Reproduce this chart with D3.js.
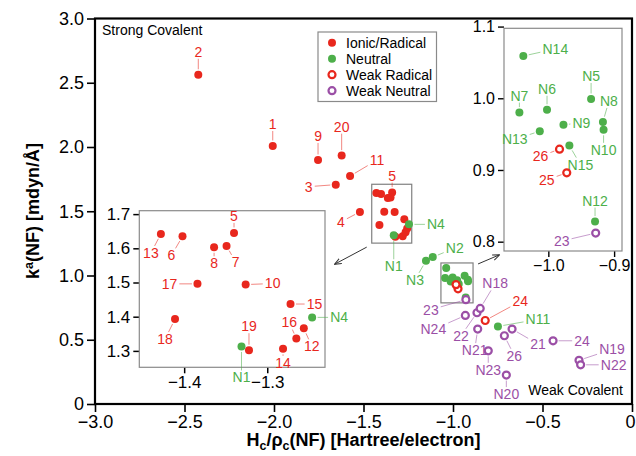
<!DOCTYPE html>
<html>
<head>
<meta charset="utf-8">
<script src="https://cdn.jsdelivr.net/npm/d3@7"></script>
<style>
body { margin: 0; background: #fff; }
svg { display: block; font-family: "Liberation Sans", Arial, Helvetica, sans-serif; }
</style>
</head>
<body>
<div id="chart"></div>
<script>
// ionic / radical (filled red)
const ionicNames = ["1","2","3","4","5","6","7","8","9","10","11","12","13","14","15","16","17","18","19","20"]
const ionicX = [-2.007,-2.423,-1.655,-1.520,-1.340,-1.402,-1.349,-1.364,-1.754,-1.326,-1.575,-1.256,-1.428,-1.281,-1.272,-1.265,-1.384,-1.411,-1.322,-1.622]
const ionicY = [2.008,2.562,1.707,1.495,1.645,1.635,1.607,1.603,1.899,1.494,1.774,1.366,1.642,1.306,1.437,1.336,1.496,1.393,1.302,1.933]

// neutral (filled green)
const neutralNames = ["N1","N2","N3","N4","N5","N6","N7","N8","N9","N10","N11","N12","N13","N14","N15"]
const neutralX = [-1.331,-1.113,-1.151,-1.246,-0.935,-1.002,-1.044,-0.917,-0.977,-0.916,-0.749,-0.929,-1.013,-1.038,-0.968]
const neutralY = [1.313,1.143,1.114,1.398,0.999,0.984,0.980,0.967,0.963,0.956,0.604,0.828,0.954,1.059,0.934]

// weak radical (open red)
const weakRadNames = ["24","25","26"]
const weakRadX = [-0.820,-0.972,-0.983]
const weakRadY = [0.650,0.896,0.929]

// weak neutral (open purple)
const weakNeuNames = ["21","22","23","24","26","N18","N19","N20","N21","N22","N23","N24"]
const weakNeuX = [-0.670,-0.866,-0.928,-0.441,-0.713,-0.848,-0.296,-0.702,-0.862,-0.287,-0.803,-0.931]
const weakNeuY = [0.583,0.710,0.812,0.492,0.531,0.744,0.340,0.225,0.583,0.305,0.414,0.689]

// tick labels
const xTicks = [-3, -2.5, -2, -1.5, -1, -0.5, 0]
const yTicks = [0, 0.5, 1, 1.5, 2, 2.5, 3]
const leftXTicks = [-1.4, -1.3]
const leftYTicks = [1.3, 1.4, 1.5, 1.6, 1.7]
const rightXTicks = [-1.0, -0.9]
const rightYTicks = [0.8, 0.9, 1.0, 1.1]

const legendLabels = ["Ionic/Radical", "Neutral", "Weak Radical", "Weak Neutral"]

const RED = "#e8271d", GREEN = "#4daf4a", PURPLE = "#9b4fa6"

const series = [
    { key: "ionic", names: ionicNames, xs: ionicX, ys: ionicY, color: RED, open: false },
    { key: "neutral", names: neutralNames, xs: neutralX, ys: neutralY, color: GREEN, open: false },
    { key: "weakRad", names: weakRadNames, xs: weakRadX, ys: weakRadY, color: RED, open: true },
    { key: "weakNeu", names: weakNeuNames, xs: weakNeuX, ys: weakNeuY, color: PURPLE, open: true }
]
const points = []
series.forEach(s => s.names.forEach((n, i) => points.push({ id: s.key + ":" + n, name: n, x: s.xs[i], y: s.ys[i], color: s.color, open: s.open })))

// label placement (pixel offsets from the point)
const mainLabels = {
    "ionic:2": [0, -23], "ionic:1": [0, -22], "ionic:9": [0, -24], "ionic:20": [0, -29], "ionic:3": [-27, 2],
    "ionic:11": [27, -16], "ionic:4": [-19, 10], "ionic:5": [0, -17],
    "neutral:N4": [27, 0], "neutral:N1": [0, 31], "neutral:N2": [22, -9], "neutral:N3": [-11, 19], "neutral:N11": [40, -7],
    "weakRad:24": [35, -19],
    "weakNeu:23": [-35, 10], "weakNeu:N18": [15, -25], "weakNeu:22": [-16, 23], "weakNeu:N24": [-32, 14],
    "weakNeu:N21": [-3, 21], "weakNeu:21": [26, 15], "weakNeu:26": [10, 20], "weakNeu:24": [29, 0],
    "weakNeu:N23": [0, 19], "weakNeu:N20": [0, 19], "weakNeu:N19": [33, -11], "weakNeu:N22": [33, 0]
}
const leftLabels = {
    "ionic:13": [-10, 19], "ionic:6": [-11, 19], "ionic:5": [0, -17], "ionic:8": [0, 16], "ionic:7": [9, 16],
    "ionic:17": [-28, 0], "ionic:10": [27, -1], "ionic:15": [24, 0], "neutral:N4": [27, 0], "ionic:18": [-10, 20],
    "ionic:16": [-7, -16], "ionic:12": [8, 18], "ionic:19": [0, -24], "neutral:N1": [0, 31], "ionic:14": [0, 14]
}
const rightLabels = {
    "neutral:N14": [32, -7], "neutral:N5": [0, -23], "neutral:N7": [0, -17], "neutral:N6": [0, -21],
    "neutral:N8": [6, -21], "neutral:N10": [0, 20], "neutral:N9": [18, -2], "neutral:N13": [-25, 8],
    "neutral:N15": [11, 19], "weakRad:26": [-19, 7], "weakRad:25": [-20, 7], "neutral:N12": [0, -21],
    "weakNeu:23": [-34, 8]
}

const W = 636, H = 456
const svg = d3.select("#chart").append("svg")
    .attr("width", W).attr("height", H)
svg.append("rect").attr("width", W).attr("height", H).attr("fill", "#fff")

const defs = svg.append("defs")
defs.append("marker").attr("id", "arrow")
    .attr("viewBox", "0 0 10 10").attr("refX", 9).attr("refY", 5)
    .attr("markerWidth", 7).attr("markerHeight", 7).attr("orient", "auto")
    .append("path").attr("d", "M0,1 L10,5 L0,9").attr("fill", "none").attr("stroke", "#333").attr("stroke-width", 1.4)

// main scales
const x = d3.scaleLinear().domain([-3, 0]).range([95, 632])
const y = d3.scaleLinear().domain([0, 3]).range([404, 18.5])

const fmt = d => d === 0 ? "0" : d3.format(".1f")(d)

function drawAxes(g, xs, ys, o) {
    const [x0, x1] = xs.range(), [y0, y1] = ys.range()
    const xa = g.append("g").attr("transform", `translate(0,${y0})`)
    xa.call(d3.axisBottom(xs).tickValues(o.xMinor).tickSize(o.minor).tickFormat(""))
    xa.call(d3.axisBottom(xs).tickValues(o.xMajor).tickSize(o.major).tickPadding(o.pad).tickFormat(o.fmt))
    const ya = g.append("g").attr("transform", `translate(${x0},0)`)
    ya.call(d3.axisLeft(ys).tickValues(o.yMinor).tickSize(o.minor).tickFormat(""))
    ya.call(d3.axisLeft(ys).tickValues(o.yMajor).tickSize(o.major).tickPadding(o.pad).tickFormat(o.fmt))
    g.selectAll(".domain").remove()
    g.selectAll(".tick line").attr("stroke", "#000").attr("stroke-width", o.tw)
    g.selectAll(".tick text").attr("font-size", o.fs).attr("fill", "#000")
        .attr("font-family", "Liberation Sans, Arial, sans-serif")
    g.append("rect").attr("x", x0).attr("y", y1).attr("width", x1 - x0).attr("height", y0 - y1)
        .attr("fill", "none").attr("stroke", o.frame).attr("stroke-width", o.fw)
    return xa
}

function drawPoints(g, xs, ys, clip) {
    const [xa, xb] = xs.domain(), [ya, yb] = ys.domain()
    const pts = points.filter(p => !clip || (p.x >= xa && p.x <= xb && p.y >= ya && p.y <= yb))
    g.selectAll("circle.pt").data(pts).join("circle").attr("class", "pt")
        .attr("cx", d => xs(d.x)).attr("cy", d => ys(d.y))
        .attr("r", d => d.open ? 3.5 : 4)
        .attr("fill", d => d.open ? "#fff" : d.color)
        .attr("stroke", d => d.open ? d.color : "none")
        .attr("stroke-width", 2.2)
}

function drawLabels(g, xs, ys, table) {
    points.filter(p => table[p.id]).forEach(p => {
        const px = xs(p.x), py = ys(p.y)
        const [dx, dy] = table[p.id]
        const cx = px + dx, cy = py + dy
        const t = g.append("text").attr("x", cx).attr("y", cy).attr("dy", "0.35em")
            .attr("text-anchor", "middle").attr("font-size", 14).attr("fill", p.color).text(p.name)
        const bb = t.node().getBBox()
        const hw = bb.width / 2 + 2, hh = bb.height / 2 - 1
        const vx = cx - px, vy = cy - py, len = Math.hypot(vx, vy)
        const s = Math.min(vx ? hw / Math.abs(vx) : Infinity, vy ? hh / Math.abs(vy) : Infinity)
        if (s >= 1) return
        const ex = cx - vx * s, ey = cy - vy * s
        const sx = px + vx / len * 5.5, sy = py + vy / len * 5.5
        if (Math.hypot(ex - px, ey - py) <= 6) return
        g.insert("line", "text").attr("x1", sx).attr("y1", sy).attr("x2", ex).attr("y2", ey)
            .attr("stroke", p.color).attr("stroke-width", 1).attr("opacity", 0.55)
    })
}

// ----- main plot -----
const main = svg.append("g")
const mainX = drawAxes(main, x, y, {
    xMajor: xTicks, xMinor: d3.range(-3, 0.001, 0.1), yMajor: yTicks, yMinor: d3.range(0, 3.001, 0.1),
    major: 8, minor: 4, pad: 3, fmt: fmt, fs: 18, tw: 1.6, frame: "#000", fw: 2.2
})
mainX.selectAll(".tick text").filter(d => d === 0).attr("dx", -2)

// inset domains
const lx = d3.scaleLinear().domain([-1.454, -1.2305]).range([139.3, 325])
const ly = d3.scaleLinear().domain([1.252, 1.71]).range([367.3, 210.7])
const rx = d3.scaleLinear().domain([-1.0674, -0.888]).range([504, 622])
const ry = d3.scaleLinear().domain([0.787, 1.0976]).range([251, 28.3])

// zoom boxes on main plot
const boxL = { x0: x(lx.domain()[0]), x1: x(lx.domain()[1]), y0: y(ly.domain()[1]), y1: y(ly.domain()[0]) }
const boxR = { x0: x(rx.domain()[0]), x1: x(rx.domain()[1]), y0: y(ry.domain()[1]), y1: y(ry.domain()[0]) }
;[boxL, boxR].forEach(b => main.append("rect")
    .attr("x", b.x0).attr("y", b.y0).attr("width", b.x1 - b.x0).attr("height", b.y1 - b.y0)
    .attr("fill", "none").attr("stroke", "#808080").attr("stroke-width", 1.2))

const mainLayer = main.append("g")
drawLabels(mainLayer, x, y, mainLabels)
drawPoints(mainLayer, x, y, false)

main.append("text").attr("x", 102).attr("y", 35).attr("font-size", 14).text("Strong Covalent")
main.append("text").attr("x", 623).attr("y", 395).attr("text-anchor", "end").attr("font-size", 14).text("Weak Covalent")

// arrows to insets
main.append("line").attr("x1", boxL.x0 - 5).attr("y1", boxL.y1 + 4)
    .attr("x2", lx.range()[1] + 10).attr("y2", 264)
    .attr("stroke", "#333").attr("stroke-width", 1).attr("marker-end", "url(#arrow)")
main.append("line").attr("x1", boxR.x1 + 5).attr("y1", boxR.y0 + 1)
    .attr("x2", rx.range()[0] - 5).attr("y2", 255)
    .attr("stroke", "#333").attr("stroke-width", 1).attr("marker-end", "url(#arrow)")

// ----- left inset -----
const left = svg.append("g")
left.append("rect").attr("x", 139.3).attr("y", 210.7).attr("width", 325 - 139.3).attr("height", 367.3 - 210.7).attr("fill", "#fff")
drawAxes(left, lx, ly, {
    xMajor: leftXTicks, xMinor: [-1.45, -1.35, -1.25], yMajor: leftYTicks, yMinor: [1.25, 1.35, 1.45, 1.55, 1.65],
    major: 6, minor: 6, pad: 3, fmt: fmt, fs: 17, tw: 1.5, frame: "#8a8a8a", fw: 1.2
})
const leftLayer = left.append("g")
drawLabels(leftLayer, lx, ly, leftLabels)
drawPoints(leftLayer, lx, ly, true)

// ----- right inset -----
const right = svg.append("g")
right.append("rect").attr("x", 504).attr("y", 28.3).attr("width", 118).attr("height", 251 - 28.3).attr("fill", "#fff")
drawAxes(right, rx, ry, {
    xMajor: rightXTicks, xMinor: [-1.05, -0.95], yMajor: rightYTicks, yMinor: d3.range(0.79, 1.095, 0.01),
    major: 6, minor: 4, pad: 3, fmt: fmt, fs: 16, tw: 1.4, frame: "#8a8a8a", fw: 1.2
})
const rightLayer = right.append("g")
drawLabels(rightLayer, rx, ry, rightLabels)
drawPoints(rightLayer, rx, ry, true)

// ----- legend -----
const legend = svg.append("g").attr("transform", "translate(318,32)")
legend.append("rect").attr("width", 118.5).attr("height", 69.5).attr("fill", "#fff").attr("stroke", "#8a8a8a").attr("stroke-width", 1.2)
series.forEach((s, i) => {
    const row = legend.append("g").attr("transform", `translate(14,${10.7 + i * 16})`)
    row.append("circle").attr("r", s.open ? 3.5 : 4)
        .attr("fill", s.open ? "#fff" : s.color).attr("stroke", s.open ? s.color : "none").attr("stroke-width", 2.2)
    row.append("text").attr("x", 14).attr("dy", "0.35em").attr("font-size", 14).text(legendLabels[i])
})

// ----- axis titles -----
const xt = svg.append("text").attr("x", 363.5).attr("y", 446).attr("text-anchor", "middle")
    .attr("font-size", 18).attr("font-weight", "bold")
xt.append("tspan").text("H")
xt.append("tspan").attr("font-size", 12.5).attr("dy", 4).text("c")
xt.append("tspan").attr("dy", -4).text("/ρ")
xt.append("tspan").attr("font-size", 12.5).attr("dy", 4).text("c")
xt.append("tspan").attr("dy", -4).text("(NF) [Hartree/electron]")

const yt = svg.append("text").attr("transform", "translate(39,211) rotate(-90)").attr("text-anchor", "middle")
    .attr("font-size", 18).attr("font-weight", "bold")
yt.append("tspan").text("k")
yt.append("tspan").attr("font-size", 12.5).attr("dy", -6).text("a")
yt.append("tspan").attr("dy", 6).text("(NF) [mdyn/Å]")
</script>
</body>
</html>
